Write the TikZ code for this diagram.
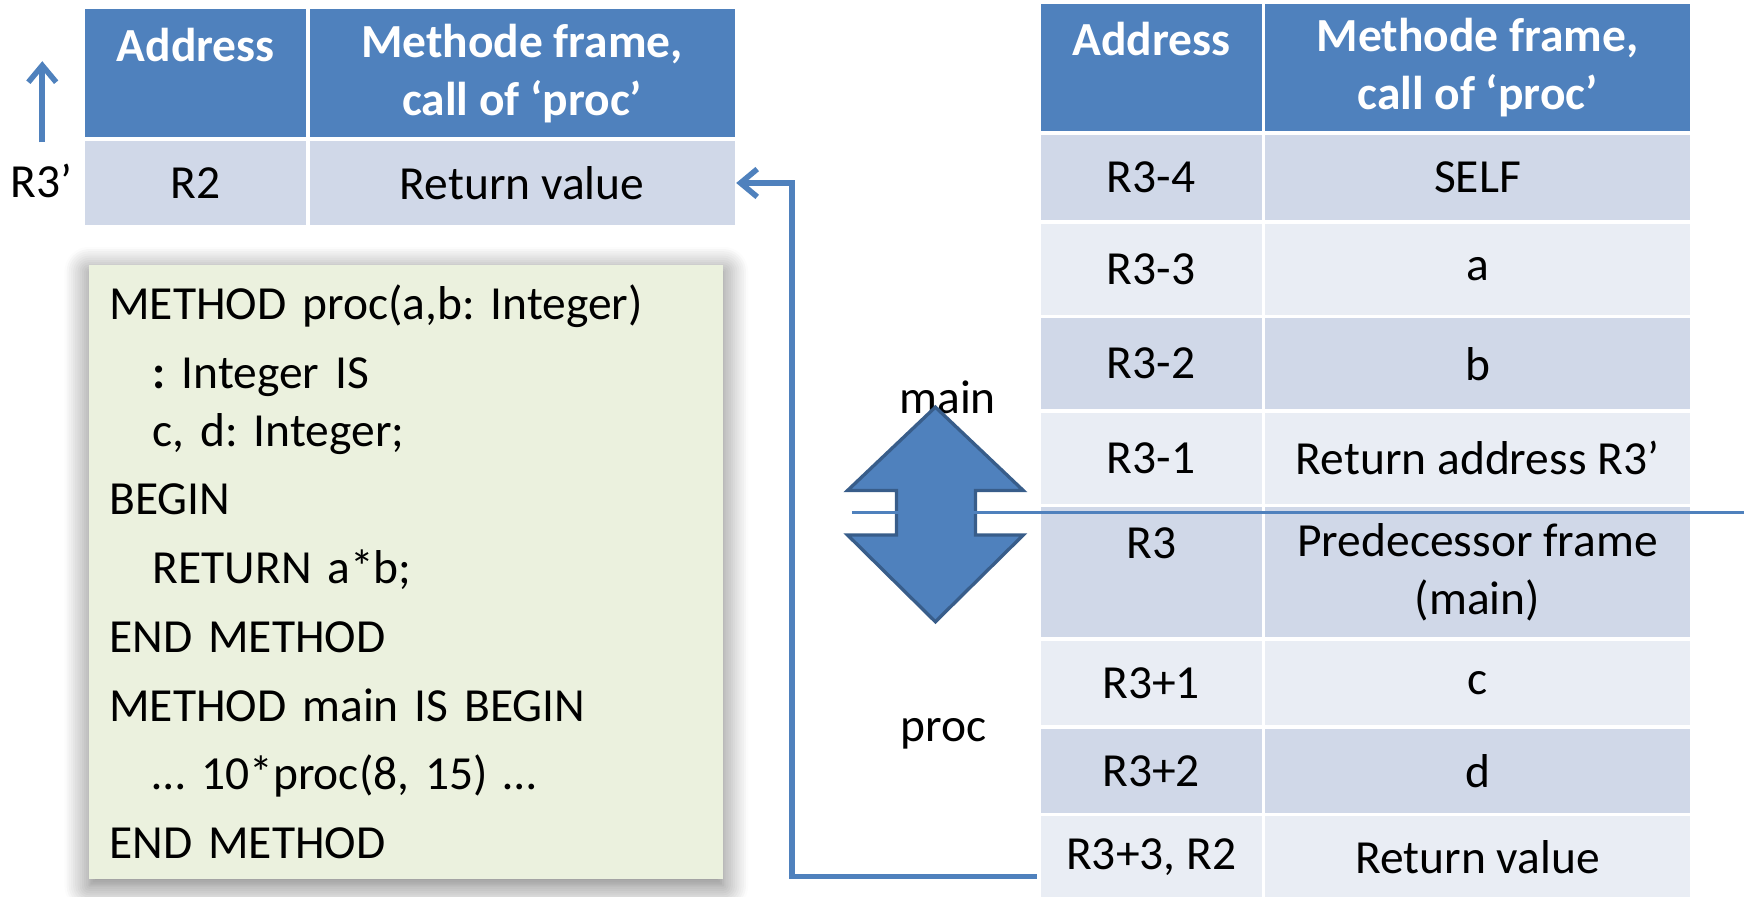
\documentclass[tikz,border=0pt]{standalone}
\usepackage{fontspec}
\setmainfont{Carlito}
\frenchspacing
\usetikzlibrary{arrows.meta}
\usetikzlibrary{calc}
\usetikzlibrary{shadows.blur}
\definecolor{hdrblue}{RGB}{79,129,189}
\definecolor{edgeblue}{RGB}{56,93,138}
\definecolor{rowdk}{RGB}{208,216,232}
\definecolor{rowlt}{RGB}{233,237,244}
\definecolor{codecol}{RGB}{235,241,222}
\newcommand\bigfont{\fontsize{24.3}{29.5}\selectfont}
\def\px{0.02cm}
\tikzset{>={Straight Barb[length=0.3cm,width=0.5cm]}}
\tikzset{
  cell/.style={rectangle,draw=white,line width=0.06cm,outer sep=0pt,inner sep=0pt,
               align=center,font=\bigfont},
  hdr/.style={cell,fill=hdrblue,text=white,font=\bigfont\bfseries},
  dkrow/.style={cell,fill=rowdk},
  ltrow/.style={cell,fill=rowlt},
  codebox/.style={rectangle,fill=codecol,minimum height=11.04cm,text width=10.68cm,
                  inner xsep=0.36cm,inner ysep=0pt,align=left,font=\bigfont,
                  blur shadow={shadow xshift=0pt,shadow yshift=-0.12cm,
                               shadow blur radius=0.45cm,shadow blur steps=12,
                               shadow opacity=55}},
  txt/.style={font=\bigfont,inner sep=0pt},
  link/.style={hdrblue,line width=0.1cm},
  thinlink/.style={hdrblue,line width=0.05cm},
  dblarrow/.style={fill=hdrblue,draw=edgeblue,line width=0.06cm}
}
% name, x, top, height, style, address, content
\newcommand\tabrow[7]{
  \node[#5,minimum width=4.04cm,minimum height=#4*\px,anchor=north west] (#1a) at (#2,#3) {#6};
  \node[#5,minimum width=7.7cm,minimum height=#4*\px,anchor=north west] (#1b) at (#1a.north east) {#7};
}

\begin{document}
\begin{tikzpicture}[x=0.02cm,y=-0.02cm]
  \useasboundingbox (0,0) rectangle (1568,806);

  % LEFT TABLE
  \tabrow{lh}{75}{7}{118}{hdr}{Address\\~}{Methode frame,\\call of ‘proc’}
  \tabrow{lr}{75}{125}{79}{dkrow}{R2}{Return value}
  \node[txt] (r3p) at (37,163) {R3’};
  \coordinate (upS) at (38,128);
  \coordinate (upE) at (38,55);
  \draw[link,->] (upS) -- (upE);

  % CODE
  \node[codebox,anchor=north west] (code) at (80,238) {METHOD proc(a,b: Integer)\\[0.2cm]
    \hspace*{0.78cm}\textbf{:} Integer IS\\
    \hspace*{0.78cm}c, d: Integer;\\[0.2cm]
    BEGIN\\[0.2cm]
    \hspace*{0.78cm}RETURN a*b;\\[0.2cm]
    END METHOD\\[0.2cm]
    METHOD main IS BEGIN\\[0.2cm]
    \hspace*{0.78cm}… 10*proc(8, 15) …\\[0.2cm]
    END METHOD};

  % RIGHT TABLE
  \tabrow{rh}{934}{2}{117.5}{hdr}{Address\\~}{Methode frame,\\call of ‘proc’}
  \tabrow{rs}{934}{119.5}{80}{dkrow}{R3-4}{SELF}
  \tabrow{ra}{934}{199.5}{85}{ltrow}{R3-3}{a}
  \tabrow{rb}{934}{284.5}{85}{dkrow}{R3-2}{b}
  \tabrow{rr}{934}{369.5}{85}{ltrow}{R3-1}{Return address R3’}
  \tabrow{rp}{934}{454.5}{120}{dkrow}{R3\\~}{Predecessor frame\\(main)}
  \tabrow{rc}{934}{574.5}{79}{ltrow}{R3+1}{c}
  \tabrow{rd}{934}{653.5}{79}{dkrow}{R3+2}{d}
  \tabrow{rv}{934}{732.5}{76}{ltrow}{R3+3, R2}{Return value}

  % MAIN / PROC
  \node[txt] (mainlbl) at (852,357) {main};
  \node[txt] (proclbl) at (848,660) {proc};
  \draw[dblarrow] (841,366) -- (920,441) -- (877,441) -- (877,481) -- (920,481)
    -- (841,559) -- (762,481) -- (806,481) -- (806,441) -- (762,441) -- cycle;
  \coordinate (hlS) at (766,461);
  \coordinate (hlE) at (1568,461);
  \draw[thinlink] (hlS) -- (hlE);

  % RETURN
  \coordinate (retS) at (932,788);
  \draw[link,->] (retS) -| ($(lrb.east)+(50,0)$) -- (lrb.east);

\end{tikzpicture}
\end{document}
